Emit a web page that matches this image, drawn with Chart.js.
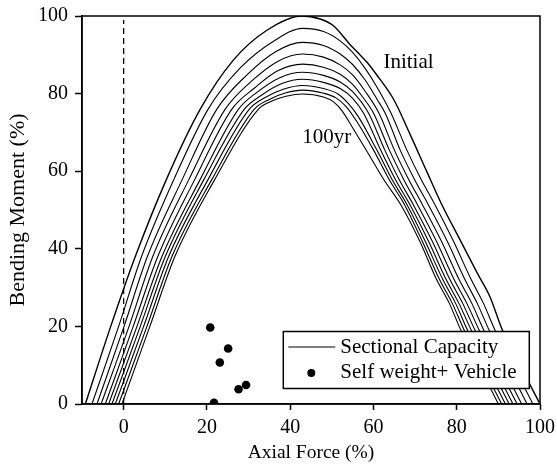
<!DOCTYPE html>
<html>
<head>
  <title>Sectional capacity</title>
  <script src="https://cdn.jsdelivr.net/npm/chart.js@4.4.1/dist/chart.umd.min.js"></script>
  <style>
    body { margin: 0; background: #fff; }
  </style>
</head>
<body>
  <canvas id="myChart" width="557" height="473"></canvas>
<script>
// interaction curves (axial force %, bending moment %), from initial state to 100 years
const capInitial = [[-9.2,0],[-3.1,20],[2.8,38],[10.2,57.7],[18.4,76],[26.4,88.7],[34.5,96.4],[42.8,100],[47,99.3],[50.4,97.5],[54.4,92.6],[56.4,90.4],[58.6,87.9],[60.8,84.8],[64.8,78.6],[68.8,69.5],[72.6,60.4],[76.4,51.4],[80.8,42.3],[85,33.6],[88,27.6],[90.9,19.2],[95.2,10],[100,0]];
const capAge1 = [[-7.6,0],[-1.2,20],[4.3,38],[12.0,57.7],[20.3,76],[28,86.6],[36,93.5],[43,96.8],[48,96],[52,93.6],[55,90.6],[58,86.5],[61,81.4],[64.2,75],[68,65.5],[71.4,58],[74.8,51.3],[79.2,42],[83.5,32],[86.4,26],[89.2,19],[93.5,10],[98.3,0]];
const capAge2 = [[-6.4,0],[0.1,20],[5.7,38],[14.0,57.7],[22.4,76],[29.5,84.7],[36.5,90.8],[43,93.2],[48,92.4],[52,90.2],[55,87.5],[58,83.5],[61,78.3],[62.8,75],[66.4,65.5],[69.8,58],[73.2,51.3],[77.7,42],[82,32],[84.9,26],[87.8,19],[92.1,10],[96.9,0]];
const capAge3 = [[-5.4,0],[1.3,20],[7.0,38],[15.6,57.7],[24.4,76],[30.5,83],[37,88.3],[43,90.2],[48,89.4],[52,87.4],[55,84.8],[58,80.6],[61.3,75],[65,65.5],[68.4,58],[71.8,51.3],[76.3,42],[80.6,32],[83.6,26],[86.5,19],[90.8,10],[95.6,0]];
const capAge4 = [[-4.4,0],[2.3,20],[8.2,38],[17.0,57.7],[26.0,76],[31.5,81.5],[37,85.9],[43,87.6],[48,86.8],[52,85],[55,82.4],[57.5,79],[60,75],[63.8,65.5],[67.2,58],[70.6,51.3],[75.1,42],[79.4,32],[82.4,26],[85.4,19],[89.7,10],[94.5,0]];
const capAge5 = [[-3.6,0],[3.2,20],[9.2,38],[18.3,57.7],[27.6,76],[32,80.3],[37.5,84.1],[43,85.5],[48,84.7],[52,83],[55,80.5],[58.8,75],[62.7,65.5],[66.1,58],[69.6,51.3],[74.1,42],[78.4,32],[81.4,26],[84.4,19],[88.7,10],[93.5,0]];
const capAge6 = [[-2.8,0],[4.0,20],[10.0,38],[19.2,57.7],[29.0,76],[33,79.5],[38,82.6],[43,83.7],[48,82.9],[52,81.3],[55,78.8],[57.6,75],[61.7,65.5],[65.2,58],[68.8,51.3],[73.2,42],[77.5,32],[80.5,26],[83.5,19],[87.8,10],[92.6,0]];
const capAge7 = [[-2.0,0],[4.8,20],[10.8,38],[20.2,57.7],[30.2,76],[34,79],[38.5,81.2],[43,82.1],[48,81.3],[51.5,79.9],[54,77.4],[56.4,74],[60.8,65.5],[64.4,58],[68.1,51.3],[72.4,42],[76.7,32],[79.7,26],[82.6,19],[86.9,10],[91.7,0]];
const capAge8 = [[-1.2,0],[5.6,20],[11.6,38],[21.1,57.7],[31.4,76],[35,78.5],[39,80.2],[43,80.9],[48,80.1],[51,78.9],[53.5,76.6],[56,72.8],[60,65.5],[63.7,58],[67.5,51.3],[71.7,42],[75.9,32],[78.9,26],[81.8,19],[86.0,10],[90.8,0]];
const cap100yr = [[-0.4,0],[6.3,20],[12.3,38],[21.8,57.7],[32.4,76],[35.5,78],[39,79.3],[43,79.9],[48,79.1],[50.5,77.8],[52.5,75.5],[55,71.2],[58.5,65],[62.5,57.8],[66.6,51.3],[71.1,42],[75.2,32],[78.2,26],[81.0,19],[85.3,10],[90.0,0]];

const capacityCurves = [capInitial, capAge1, capAge2, capAge3, capAge4, capAge5, capAge6, capAge7, capAge8, cap100yr];

// self weight + vehicle load cases
const loadAxial = [20.8, 25.1, 23.1, 21.7, 27.6, 29.4];
const loadMoment = [19.7, 14.3, 10.7, 0.3, 3.8, 4.9];

const axialTicks = [0, 20, 40, 60, 80, 100];
const momentTicks = [0, 20, 40, 60, 80, 100];

const curveLabels = [
  { text: 'Initial', x: 62.4, y: 87.9 },
  { text: '100yr', x: 42.9, y: 68.8 }
];

const serif = '"Liberation Serif", "Times New Roman", serif';

let datasets = capacityCurves.map(function (pts, i) {
  return {
    label: 'Sectional Capacity',
    data: pts.map(p => ({ x: p[0], y: p[1] })),
    showLine: true,
    pointRadius: 0,
    borderColor: '#000',
    borderWidth: i == 0 ? 1.4 : 1.1,
    cubicInterpolationMode: 'monotone'
  };
});

datasets.push({
  label: 'zero',
  data: [{ x: 0, y: 0 }, { x: 0, y: 99 }],
  showLine: true,
  pointRadius: 0,
  borderColor: '#000',
  borderWidth: 1.3,
  borderDash: [6, 4]
});

datasets.push({
  label: 'Self weight+ Vehicle',
  data: loadAxial.map((v, i) => ({ x: v, y: loadMoment[i] })),
  showLine: false,
  pointRadius: 4.3,
  pointBackgroundColor: '#000',
  pointBorderColor: '#000',
  pointBorderWidth: 0
});

const framePlugin = {
  id: 'frame',
  afterDraw(chart) {
    const ctx = chart.ctx;
    const a = chart.chartArea;
    const xs = chart.scales.x, ys = chart.scales.y;
    ctx.save();
    ctx.strokeStyle = '#000';
    ctx.lineWidth = 1.5;
    ctx.strokeRect(a.left, a.top, a.right - a.left, a.bottom - a.top);

    // curve annotations
    ctx.fillStyle = '#000';
    ctx.font = '21px ' + serif;
    ctx.textAlign = 'left';
    ctx.textBaseline = 'middle';
    curveLabels.forEach(function (l) {
      ctx.fillText(l.text, xs.getPixelForValue(l.x), ys.getPixelForValue(l.y));
    });

    // legend box
    const bx = a.right - 256.7, by = a.bottom - 72.5, bw = 246, bh = 57;
    ctx.fillStyle = '#fff';
    ctx.fillRect(bx, by, bw, bh);
    ctx.lineWidth = 1.5;
    ctx.strokeRect(bx, by, bw, bh);
    ctx.lineWidth = 1;
    ctx.beginPath();
    ctx.moveTo(bx + 5, by + 15.5);
    ctx.lineTo(bx + 52, by + 15.5);
    ctx.stroke();
    ctx.fillStyle = '#000';
    ctx.beginPath();
    ctx.arc(bx + 28, by + 41.5, 4, 0, Math.PI * 2);
    ctx.fill();
    ctx.font = '21px ' + serif;
    ctx.fillText(datasets[0].label, bx + 57, by + 16);
    ctx.fillText(datasets[datasets.length - 1].label, bx + 57, by + 41);
    ctx.restore();
  }
};

const ctx = document.getElementById('myChart').getContext('2d');
const myChart = new Chart(ctx, {
  type: 'scatter',
  data: { datasets: datasets },
  options: {
    responsive: false,
    animation: false,
    layout: { padding: { top: 16, right: 17, left: 0, bottom: 0 } },
    plugins: { legend: { display: false }, tooltip: { enabled: false } },
    scales: {
      x: {
        type: 'linear',
        min: -10,
        max: 100,
        afterBuildTicks: function (scale) { scale.ticks = axialTicks.map(v => ({ value: v })); },
        afterFit: function (scale) {
          scale.height = 69;
          scale.paddingLeft = 0;
          scale.paddingRight = 0;
        },
        grid: { drawOnChartArea: false, drawTicks: true, tickLength: 6, tickColor: '#000', tickWidth: 1.5 },
        border: { display: true, color: '#000', width: 1.5 },
        ticks: { color: '#000', padding: 6, maxRotation: 0, font: { family: serif, size: 20 } },
        title: { display: true, text: 'Axial Force (%)', color: '#000', font: { family: serif, size: 19.5 }, padding: { top: 0, bottom: 8 } }
      },
      y: {
        type: 'linear',
        min: 0,
        max: 100,
        afterBuildTicks: function (scale) { scale.ticks = momentTicks.map(v => ({ value: v })); },
        afterFit: function (scale) {
          scale.width = 82;
          scale.paddingTop = 0;
          scale.paddingBottom = 0;
        },
        grid: { drawOnChartArea: false, drawTicks: true, tickLength: 7, tickColor: '#000', tickWidth: 1.5 },
        border: { display: true, color: '#000', width: 1.5 },
        ticks: { color: '#000', padding: 7, font: { family: serif, size: 20 } },
        title: { display: true, text: 'Bending Moment (%)', color: '#000', font: { family: serif, size: 22 }, padding: { top: 5, bottom: 0 } }
      }
    }
  },
  plugins: [framePlugin]
});
</script>
</body>
</html>
